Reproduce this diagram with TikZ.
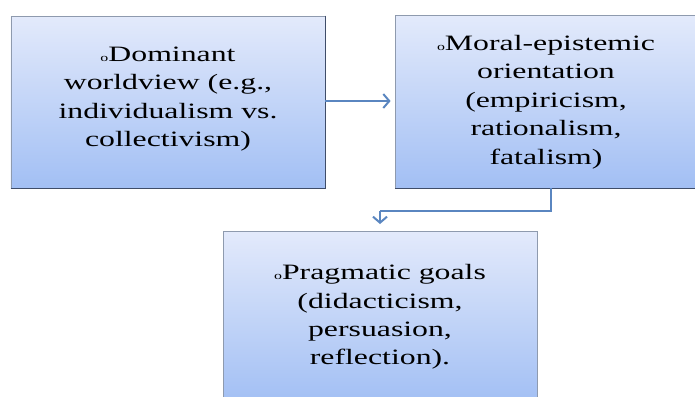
\documentclass[tikz,border=0pt]{standalone}
\usepackage{fontspec}
\setmainfont[FakeStretch=1.45]{Liberation Serif}
\usetikzlibrary{arrows.meta}
\definecolor{topc}{HTML}{E3EAFB}
\definecolor{botc}{HTML}{A2BFF4}
\definecolor{edgec}{HTML}{8E9AAE}
\definecolor{shadc}{HTML}{3F4D69}
\definecolor{arrc}{HTML}{5A86C0}
\tikzset{
  boxnode/.style={rectangle, draw=edgec, line width=0.8bp, top color=topc, bottom color=botc,
    inner sep=0pt},
  txt/.style={align=center, font=\fontsize{22}{28.5}\selectfont, text=black, inner sep=0pt},
  conn/.style={draw=arrc, line width=2bp}
}
\newcommand{\bulo}{{\fontsize{11}{11}\selectfont o}}
\begin{document}
\begin{tikzpicture}[x=1bp,y=-1bp]
\useasboundingbox (0,0) rectangle (695,396);
\node[boxnode, minimum width=314bp, minimum height=172bp] (a) at (168,102) {};
\node[boxnode, minimum width=302bp, minimum height=173bp] (b) at (546,101.5) {};
\node[boxnode, minimum width=314bp, minimum height=172bp] (c) at (380,317) {};
% shadows bottom/right
\draw[shadc, line width=1.6bp] (a.north east) -- (a.south east) -- (a.south west);
\draw[shadc, line width=1.6bp] (b.south east) -- (b.south west);
\node[txt] (ta) at (168,99) {\bulo Dominant\\worldview (e.g.,\\individualism vs.\\collectivism)};
\node[txt] (tb) at (546,102) {\bulo Moral-epistemic\\orientation\\(empiricism,\\rationalism,\\fatalism)};
\node[txt] (tc) at (380,317) {\bulo Pragmatic goals\\(didacticism,\\persuasion,\\reflection).};
\coordinate (b1) at (551,188);
\coordinate (b2) at (551,211);
\coordinate (b3) at (380,211);
\coordinate (b4) at (380,224);
\draw[conn, -{Straight Barb[length=6bp,width=14bp]}] (a.east |- 0,101) -- ([xshift=-4bp]b.west |- 0,101);
\draw[conn, line width=1.6bp] (b1) -- (b2) -- (b3);
\draw[conn, -{Straight Barb[length=6bp,width=14bp]}] (b3) -- (b4);
\end{tikzpicture}
\end{document}
